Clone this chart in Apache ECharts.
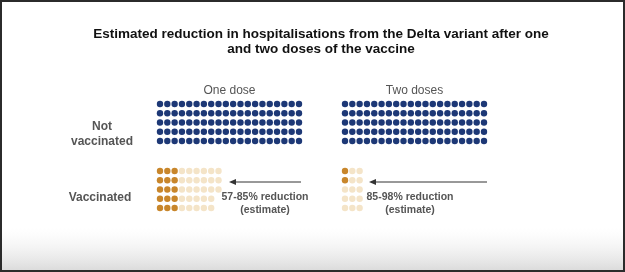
<!DOCTYPE html>
<html>
<head>
<meta charset="utf-8">
<script src="https://cdn.jsdelivr.net/npm/echarts@6/dist/echarts.min.js"></script>
<style>
  html, body { margin: 0; padding: 0; background: #fff; }
  #chart { width: 625px; height: 272px; }
</style>
</head>
<body>
<div id="chart"></div>
<script>
// dose groups and how many people (out of 100) end up in hospital
const doseGroups = ['One dose', 'Two doses'];
const notVaccinatedDots = [100, 100];
const vaccinatedUpper = [43, 15];   // lower end of reduction estimate (57%, 85%)
const vaccinatedLower = [15, 2];    // upper end of reduction estimate (85%, 98%)
const reductionLabels = ['57-85% reduction', '85-98% reduction'];
const rowLabels = ['Not\nvaccinated', 'Vaccinated'];
const dotsPerColumn = 5;

const NAVY = '#1d3876';
const ORANGE = '#c8862b';
const PALE = '#f4e4c8';
const GREY_TEXT = '#555';

const chartDom = document.getElementById('chart');
const myChart = echarts.init(chartDom);

// column-major waffle: fill 5 rows per column
function waffle(from, to) {
    const pts = [];
    for (let i = from; i < to; i++) {
        pts.push([Math.floor(i / dotsPerColumn), i % dotsPerColumn]);
    }
    return pts;
}

const groupLeft = [160, 345];
const gridWidth = 139;
const grids = [], xAxes = [], yAxes = [], series = [];

doseGroups.forEach((name, g) => {
    [104, 171].forEach((top) => {
        grids.push({ left: groupLeft[g], top: top, width: gridWidth, height: 37 });
        const idx = grids.length - 1;
        xAxes.push({ gridIndex: idx, type: 'value', min: 0, max: 19, show: false });
        yAxes.push({ gridIndex: idx, type: 'value', min: 0, max: 4, inverse: true, show: false });
    });
    const topIdx = g * 2, botIdx = g * 2 + 1;
    series.push({
        type: 'scatter', xAxisIndex: topIdx, yAxisIndex: topIdx,
        symbolSize: 6.4, itemStyle: { color: NAVY, opacity: 1 },
        data: waffle(0, notVaccinatedDots[g]), silent: true
    });
    series.push({
        type: 'scatter', xAxisIndex: botIdx, yAxisIndex: botIdx,
        symbolSize: 6.4, itemStyle: { color: ORANGE, opacity: 1 },
        data: waffle(0, vaccinatedLower[g]), silent: true
    });
    series.push({
        type: 'scatter', xAxisIndex: botIdx, yAxisIndex: botIdx,
        symbolSize: 6.4, itemStyle: { color: PALE, opacity: 1 },
        data: waffle(vaccinatedLower[g], vaccinatedUpper[g]), silent: true
    });
});

// arrow helper (head on the left)
function arrow(x1, x2, y) {
    return [
        { type: 'line', shape: { x1: x1 + 4, y1: y, x2: x2, y2: y }, style: { stroke: '#333', lineWidth: 1 } },
        { type: 'polygon', shape: { points: [[x1, y], [x1 + 7, y - 3], [x1 + 7, y + 3]] }, style: { fill: '#333' } }
    ];
}

const labelFont = { fontFamily: 'Liberation Sans, Arial, sans-serif', fontWeight: 'bold' };
const textCenters = [265, 410];
const graphic = [
    // bottom shading of the frame
    {
        type: 'rect', shape: { x: 2, y: 228, width: 621, height: 42 }, silent: true,
        style: {
            fill: new echarts.graphic.LinearGradient(0, 0, 0, 1, [
                { offset: 0, color: 'rgba(240,240,240,0)' },
                { offset: 1, color: '#dcdcdc' }
            ])
        }
    },
    {
        type: 'rect', shape: { x: 1, y: 1, width: 623, height: 270 }, silent: true,
        style: { fill: 'none', stroke: '#2b2b2b', lineWidth: 2 }
    },
    { type: 'text', x: 102, y: 134, style: Object.assign({ text: rowLabels[0], fill: GREY_TEXT, fontSize: 12, lineHeight: 15, align: 'center', verticalAlign: 'middle' }, labelFont) },
    { type: 'text', x: 100, y: 198, style: Object.assign({ text: rowLabels[1], fill: GREY_TEXT, fontSize: 12, align: 'center', verticalAlign: 'middle' }, labelFont) }
];
doseGroups.forEach((name, g) => {
    graphic.push({ type: 'text', x: groupLeft[g] + gridWidth / 2, y: 91,
        style: { text: name, fill: GREY_TEXT, fontSize: 12, fontFamily: 'Liberation Sans, Arial, sans-serif', align: 'center', verticalAlign: 'middle' } });
    graphic.push({ type: 'text', x: textCenters[g], y: 204,
        style: Object.assign({ text: reductionLabels[g] + '\n(estimate)', fill: GREY_TEXT, fontSize: 10.5, lineHeight: 13, align: 'center', verticalAlign: 'middle' }, labelFont) });
});
graphic.push(...arrow(229, 301, 182));
graphic.push(...arrow(369, 487, 182));

const options = {
    backgroundColor: '#fff',
    animation: false,
    title: {
        text: 'Estimated reduction in hospitalisations from the Delta variant after one\nand two doses of the vaccine',
        left: 316, top: 22, textAlign: 'center',
        textStyle: { color: '#111', fontSize: 13.5, fontWeight: 'bold', lineHeight: 15, fontFamily: 'Liberation Sans, Arial, sans-serif' }
    },
    grid: grids,
    xAxis: xAxes,
    yAxis: yAxes,
    series: series,
    graphic: graphic
};

myChart.setOption(options);
</script>
</body>
</html>
